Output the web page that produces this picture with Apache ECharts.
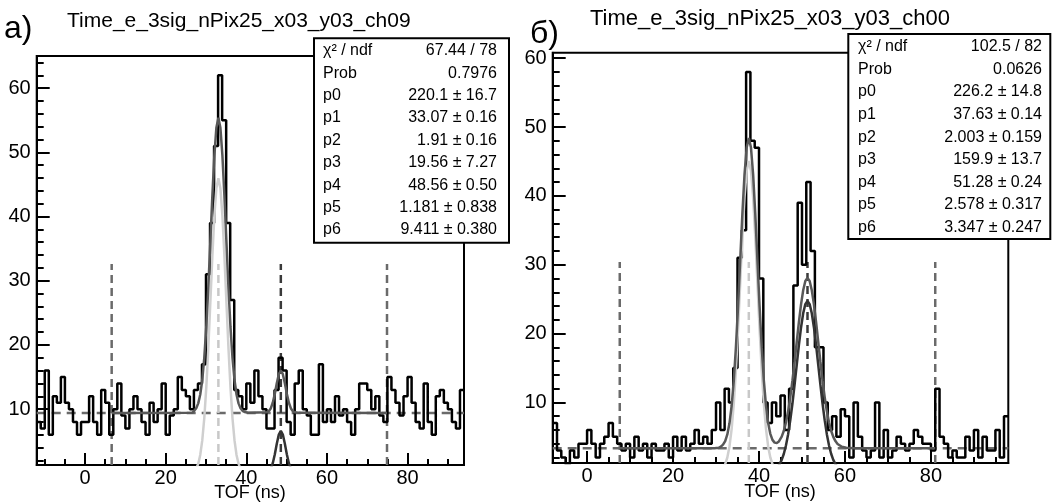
<!DOCTYPE html>
<html><head><meta charset="utf-8">
<script src="https://cdn.jsdelivr.net/npm/echarts@6/dist/echarts.min.js"></script>
<style>html,body{margin:0;padding:0;background:#fff}#c{width:1052px;height:504px}</style>
</head><body><div id="c"></div>
<script>
// ---------- data ----------
const BIN_WIDTH = 1;
const xRangeA = [-12, 94];
const yRangeA = [1.3, 65];
const xRangeB = [-8, 98];
const yRangeB = [1.2, 60.8];
const xTickLabels = [0, 20, 40, 60, 80];
const yTickLabels = [10, 20, 30, 40, 50, 60];

// panel a histogram, bins starting at -12 ns
const countsA = [8,7,16,6,12,11,15,11,10,8,6,8,
  8,12,8,6,13,11,6,10,14,9,7,10,12,10,8,6,11,8,10,14,6,9,10,15,13,12,10,13,
  14,17,31,39,51,62,55,39,27,13,12,10,14,11,16,12,10,7,7,13,18,16,8,6,14,16,
  10,9,6,6,17,8,10,8,12,9,10,8,6,10,14,14,13,10,12,9,8,15,13,11,9,12,15,11,
  8,7,14,8,6,12,13,11,10,8,7,13];
// panel b histogram, bins starting at -8 ns
const countsB = [7,3,2,1,3,2,4,4,
  6,4,2,4,5,7,5,4,3,4,2,5,3,4,2,4,3,3,4,2,5,3,5,3,4,6,4,5,4,6,10,6,12,10,15,
  31,35,58,48,47,28,10,7,10,8,11,6,12,27,39,30,42,32,18,18,10,6,8,5,9,8,2,10,
  5,3,2,3,10,2,6,2,3,5,4,3,4,6,5,4,4,3,12,5,4,2,3,2,2,5,3,6,2,5,3,3,6,2,8];

// fit curves [TOF, counts]
const fitTotalA = [[6.6,9.41],[26.6,9.42],[27.07,9.74],[27.57,10.14],[28.07,10.9],[28.57,12.28],[29.07,14.54],[29.57,17.99],[30.07,22.8],[30.57,28.93],[31.07,35.98],[31.57,43.18],[32.07,49.49],[32.57,53.83],[33.07,55.38],[33.57,53.83],[34.07,49.49],[34.57,43.18],[35.07,35.98],[35.57,28.93],[36.07,22.8],[36.57,17.99],[37.07,14.54],[37.57,12.28],[38.07,10.9],[38.57,10.14],[39.07,9.74],[39.57,9.55],[40.5,9.45],[45.06,9.5],[45.56,9.67],[46.06,10.11],[46.56,10.99],[47.06,12.36],[47.56,14.03],[48.06,15.45],[48.56,16.02],[49.06,15.45],[49.56,14.03],[50.06,12.36],[50.56,10.99],[51.06,10.11],[51.56,9.67],[52.06,9.5],[53,9.42],[74.9,9.41]];
const peak1A = [[26.57,0.14],[27.07,0.33],[27.57,0.73],[28.07,1.49],[28.57,2.87],[29.07,5.13],[29.57,8.58],[30.07,13.39],[30.57,19.52],[31.07,26.57],[31.57,33.77],[32.07,40.08],[32.57,44.42],[33.07,45.97],[33.57,44.42],[34.07,40.08],[34.57,33.77],[35.07,26.57],[35.57,19.52],[36.07,13.39],[36.57,8.58],[37.07,5.13],[37.57,2.87],[38.07,1.49],[38.57,0.73],[39.07,0.33],[39.57,0.14]];
const peak2A = [[45.06,0.08],[45.56,0.26],[46.06,0.7],[46.56,1.58],[47.06,2.95],[47.56,4.62],[48.06,6.04],[48.56,6.61],[49.06,6.04],[49.56,4.62],[50.06,2.95],[50.56,1.58],[51.06,0.7],[51.56,0.26],[52.06,0.08]];
const backgroundA = 9.411;

const fitTotalB = [[7.6,3.35],[29.63,3.36],[30.63,3.4],[31.13,3.58],[31.63,3.86],[32.13,4.39],[32.63,5.35],[33.13,6.96],[33.63,9.48],[34.13,13.14],[34.63,18.03],[35.13,24.02],[35.63,30.72],[36.13,37.39],[36.63,43.12],[37.13,47.02],[37.63,48.4],[38.13,47.02],[38.63,43.12],[39.13,37.39],[39.63,30.72],[40.13,24.02],[40.63,18.03],[41.13,13.14],[41.63,9.5],[42.13,7.0],[42.63,5.44],[43.13,4.56],[43.63,4.16],[44.13,4.11],[44.63,4.34],[45.28,5.03],[45.78,5.89],[46.28,7.12],[46.78,8.74],[47.28,10.77],[47.78,13.19],[48.28,15.92],[48.78,18.81],[49.28,21.66],[49.78,24.24],[50.28,26.3],[50.78,27.63],[51.28,28.09],[51.78,27.63],[52.28,26.3],[52.78,24.24],[53.28,21.66],[53.78,18.81],[54.28,15.92],[54.78,13.19],[55.28,10.77],[55.78,8.74],[56.28,7.12],[56.78,5.89],[57.28,5.0],[57.78,4.38],[58.28,3.97],[59.28,3.55],[60.3,3.42],[62,3.36],[81,3.35]];
const peak1B = [[31.13,0.23],[31.63,0.51],[32.13,1.04],[32.63,2.0],[33.13,3.61],[33.63,6.13],[34.13,9.79],[34.63,14.68],[35.13,20.67],[35.63,27.37],[36.13,34.04],[36.63,39.77],[37.13,43.67],[37.63,45.05],[38.13,43.67],[38.63,39.77],[39.13,34.04],[39.63,27.37],[40.13,20.67],[40.63,14.68],[41.13,9.79],[41.63,6.13],[42.13,3.61],[42.63,2.0],[43.13,1.04],[43.63,0.51],[44.13,0.23]];
const peak2B = [[43.28,0.2],[44.28,0.62],[44.78,1.03],[45.28,1.65],[45.78,2.54],[46.28,3.77],[46.78,5.39],[47.28,7.42],[47.78,9.84],[48.28,12.57],[48.78,15.46],[49.28,18.31],[49.78,20.89],[50.28,22.95],[50.78,24.28],[51.28,24.74],[51.78,24.28],[52.28,22.95],[52.78,20.89],[53.28,18.31],[53.78,15.46],[54.28,12.57],[54.78,9.84],[55.28,7.42],[55.78,5.39],[56.28,3.77],[56.78,2.54],[57.28,1.65],[57.78,1.03],[58.28,0.62],[59.28,0.2]];
const backgroundB = 3.347;

// vertical dashed markers
const markersA = [6.6, 33.07, 48.56, 74.9];
const markerTopA = 32.6;
const markersB = [7.6, 37.63, 51.28, 81.0];
const markerTopB = 30.4;

const titleA = 'Time_e_3sig_nPix25_x03_y03_ch09';
const titleB = 'Time_e_3sig_nPix25_x03_y03_ch00';
const statLabels = ['χ² / ndf', 'Prob', 'p0', 'p1', 'p2', 'p3', 'p4', 'p5', 'p6'];
const statValuesA = ['67.44 / 78', '0.7976', '220.1 ± 16.7', '33.07 ± 0.16', '1.91 ± 0.16', '19.56 ± 7.27', '48.56 ± 0.50', '1.181 ± 0.838', '9.411 ± 0.380'];
const statValuesB = ['102.5 / 82', '0.0626', '226.2 ± 14.8', '37.63 ± 0.14', '2.003 ± 0.159', '159.9 ± 13.7', '51.28 ± 0.24', '2.578 ± 0.317', '3.347 ± 0.247'];

// ---------- build ----------
const FONT = 'Liberation Sans, Arial, Helvetica, sans-serif';
const MARK_COLORS = ['#6a6a6a', '#c8c8c8', '#3a3a3a', '#6a6a6a'];

function histPoints(xmin, counts) {
  const pts = counts.map((v, i) => [xmin + i * BIN_WIDTH, v]);
  pts.push([xmin + counts.length * BIN_WIDTH, counts[counts.length - 1]]);
  return pts;
}
function range(a, b, step) { const r = []; for (let v = a; v <= b + 1e-9; v += step) r.push(v); return r; }

function xAxes(grid, rng) {
  const minor = range(Math.ceil(rng[0] / 5) * 5, rng[1], 5);
  return [
    { type: 'value', gridIndex: grid, min: rng[0], max: rng[1], position: 'bottom',
      axisLine: { show: true, onZero: false, lineStyle: { color: '#000', width: 2 } },
      axisTick: { show: true, inside: true, length: 12, lineStyle: { color: '#000', width: 2 }, customValues: xTickLabels },
      axisLabel: { show: true, customValues: xTickLabels, margin: 3, color: '#000', fontSize: 20, fontFamily: FONT },
      splitLine: { show: false } },
    { type: 'value', gridIndex: grid, min: rng[0], max: rng[1], position: 'bottom',
      axisLine: { show: false, onZero: false },
      axisTick: { show: true, inside: true, length: 6, lineStyle: { color: '#000', width: 2 }, customValues: minor },
      axisLabel: { show: false }, splitLine: { show: false } }
  ];
}
function yAxes(grid, rng) {
  const minor = range(Math.ceil(rng[0] / 2) * 2, rng[1], 2);
  return [
    { type: 'value', gridIndex: grid, min: rng[0], max: rng[1], position: 'left',
      axisLine: { show: true, onZero: false, lineStyle: { color: '#000', width: 2 } },
      axisTick: { show: true, inside: true, length: 13, lineStyle: { color: '#000', width: 2 }, customValues: yTickLabels },
      axisLabel: { show: true, customValues: yTickLabels, margin: 6, color: '#000', fontSize: 20, fontFamily: FONT },
      splitLine: { show: false } },
    { type: 'value', gridIndex: grid, min: rng[0], max: rng[1], position: 'left',
      axisLine: { show: false, onZero: false },
      axisTick: { show: true, inside: true, length: 7, lineStyle: { color: '#000', width: 2 }, customValues: minor },
      axisLabel: { show: false }, splitLine: { show: false } }
  ];
}

function panelSeries(ax, counts, xr, yr, total, p1, p2, bg, markers, mtop) {
  const s = [];
  const base = { type: 'line', xAxisIndex: ax, yAxisIndex: ax, showSymbol: false, symbol: 'none', silent: true, animation: false, clip: true };
  // background dashed
  s.push(Object.assign({}, base, { data: [[xr[0], bg], [xr[1], bg]], z: 2,
    lineStyle: { color: '#6a6a6a', width: 2.5, type: [9, 6] } }));
  markers.forEach((m, i) => {
    s.push(Object.assign({}, base, { data: [[m, yr[0]], [m, mtop]], z: 2,
      lineStyle: { color: MARK_COLORS[i], width: 2.5, type: [8, 5] } }));
  });
  s.push(Object.assign({}, base, { data: histPoints(xr[0], counts), step: 'end', z: 3,
    lineStyle: { color: '#000', width: 2.5 } }));
  s.push(Object.assign({}, base, { data: p1, z: 4, lineStyle: { color: '#cfcfcf', width: 2.5 } }));
  s.push(Object.assign({}, base, { data: total, z: 5, lineStyle: { color: '#585858', width: 2.5 } }));
  s.push(Object.assign({}, base, { data: p2, z: 6, lineStyle: { color: '#333', width: 2.5 } }));
  return s;
}

function statBox(x, y, w, h, values, row0, dy, lx, rx, fs) {
  const children = [{ type: 'rect', shape: { x: x, y: y, width: w, height: h },
    style: { fill: '#fff', stroke: '#000', lineWidth: 2 }, z: 100 }];
  statLabels.forEach((lab, i) => {
    children.push({ type: 'text', x: lx, y: row0 + i * dy, z: 101,
      style: { text: lab, fill: '#000', font: fs + 'px ' + FONT, textAlign: 'left', textVerticalAlign: 'middle' } });
    children.push({ type: 'text', x: rx, y: row0 + i * dy, z: 101,
      style: { text: values[i], fill: '#000', font: fs + 'px ' + FONT, textAlign: 'right', textVerticalAlign: 'middle' } });
  });
  return children;
}

const gridA = { left: 36.7, top: 56, width: 427.3, height: 409 };
const gridB = { left: 552.7, top: 52.7, width: 455.6, height: 410.3 };

const option = {
  backgroundColor: '#fff',
  animation: false,
  grid: [
    Object.assign({ show: true, borderColor: '#000', borderWidth: 2, backgroundColor: '#fff' }, gridA),
    Object.assign({ show: true, borderColor: '#000', borderWidth: 2, backgroundColor: '#fff' }, gridB)
  ],
  xAxis: [...xAxes(0, xRangeA), ...xAxes(1, xRangeB)],
  yAxis: [...yAxes(0, yRangeA), ...yAxes(1, yRangeB)],
  series: [
    ...panelSeries(0, countsA, xRangeA, yRangeA, fitTotalA, peak1A, peak2A, backgroundA, markersA, markerTopA),
    ...panelSeries(2, countsB, xRangeB, yRangeB, fitTotalB, peak1B, peak2B, backgroundB, markersB, markerTopB)
  ],
  graphic: [
    { type: 'text', x: 4, y: 29, z: 100, style: { text: 'а)', fill: '#000', font: '32px ' + FONT, textVerticalAlign: 'middle' } },
    { type: 'text', x: 67, y: 21, z: 100, style: { text: titleA, fill: '#000', font: '21px ' + FONT, textVerticalAlign: 'middle' } },
    { type: 'text', x: 530, y: 34, z: 100, style: { text: 'б)', fill: '#000', font: '32px ' + FONT, textVerticalAlign: 'middle' } },
    { type: 'text', x: 590, y: 19, z: 100, style: { text: titleB, fill: '#000', font: '22px ' + FONT, textVerticalAlign: 'middle' } },
    { type: 'text', x: 250, y: 493, z: 100, style: { text: 'TOF (ns)', fill: '#000', font: '18px ' + FONT, textAlign: 'center', textVerticalAlign: 'middle' } },
    { type: 'text', x: 780, y: 492, z: 100, style: { text: 'TOF (ns)', fill: '#000', font: '18px ' + FONT, textAlign: 'center', textVerticalAlign: 'middle' } },
    ...statBox(314, 38.3, 195, 204.4, statValuesA, 50.7, 22.4, 323, 497, 16),
    ...statBox(848.3, 34, 202, 205, statValuesB, 46.7, 22.6, 858, 1042, 16)
  ]
};

const chart = echarts.init(document.getElementById('c'), null, { renderer: 'canvas' });
chart.setOption(option);
</script>
</body></html>
